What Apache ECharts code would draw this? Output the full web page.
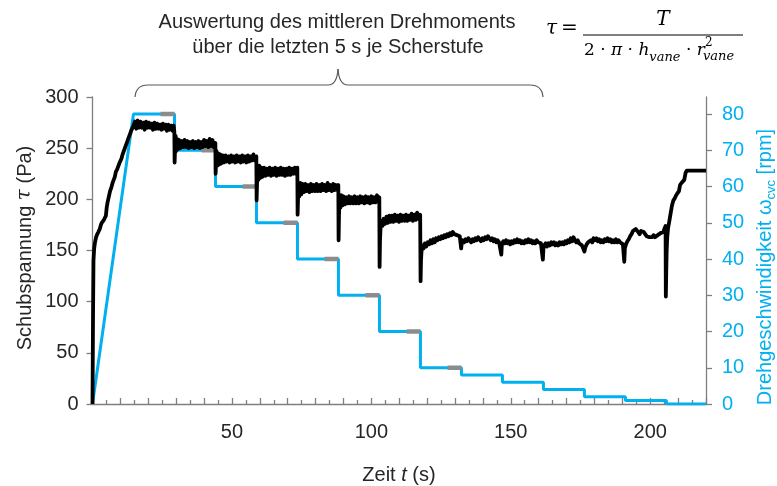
<!DOCTYPE html>
<html><head><meta charset="utf-8">
<script src="https://cdn.jsdelivr.net/npm/echarts@6/dist/echarts.min.js"></script>
<style>html,body{margin:0;padding:0;background:#fff}#c{width:777px;height:486px}</style>
</head><body><div id="c"></div><script>
// ---- data ----
const xLabelValues = [50, 100, 150, 200];
const leftTicks = [0, 50, 100, 150, 200, 250, 300];
const rightTicks = [0, 10, 20, 30, 40, 50, 60, 70, 80];

// speed profile: ramp 0 -> 80 rpm, then steps
const rampEnd = 14.7;
const stepStart = [14.7, 29.4, 44.1, 58.8, 73.5, 88.2, 102.9, 117.6, 132.3, 147.0, 161.7, 176.4, 191.1, 205.8];
const stepRpm   = [80, 70, 60, 50, 40, 30, 20, 10, 8, 6, 4, 2, 1, 0];
const endTime = 220;
const evalWindow = 5;          // last 5 s of each step
const evalStepsCount = 8;      // grey markers on first 8 steps

// shear stress (Pa) vs time (s)
const tauRamp = [[0,0],[0.2,90],[0.35,140],[0.6,152],[0.9,158],[1.3,163],[1.7,166],[2.1,168],[2.6,171],[3.0,175],[3.3,177],[3.7,178],[4.1,180],[4.5,179],[4.8,184],[5.1,192],[5.4,197],[5.8,202],[6.3,208],[6.8,212],[7.2,216],[7.6,219],[8.0,222],[8.4,227],[8.8,229],[9.2,232],[9.6,235],[10.0,236],[10.4,240],[10.8,244],[11.2,247],[11.6,250],[12.0,253],[12.4,256],[12.8,259],[13.2,262],[13.6,265],[14.0,268],[14.4,270],[14.7,272]];
const tau80 = [[15.2,276],[15.7,269],[16.2,277],[16.7,270],[17.2,276],[17.7,270],[18.2,275],[18.7,268],[19.2,276],[19.7,270],[20.2,275],[20.7,270],[21.2,274],[21.7,268],[22.2,275],[22.7,269],[23.2,274],[23.7,269],[24.2,273],[24.7,268],[25.2,274],[25.7,269],[26.2,273],[26.7,267],[27.2,273],[27.7,268],[28.2,272],[28.7,267],[29.1,272],[29.35,266]];
const tau70 = [[29.45,236],[29.6,250],[29.8,262],[30.0,247],[30.3,259],[30.6,249],[31.0,258],[31.5,250],[32.0,257],[32.5,251],[33.0,258],[33.5,251],[34.0,257],[34.5,250],[35.0,256],[35.5,251],[36.0,257],[36.5,250],[37.0,256],[37.5,251],[38.0,257],[38.5,250],[39.0,256],[39.5,251],[40.0,258],[40.5,252],[41.0,257],[41.5,251],[42.0,259],[42.5,252],[43.0,258],[43.5,251],[44.05,255]];
const tau60 = [[44.15,225],[44.3,236],[44.5,247],[44.8,233],[45.1,245],[45.4,234],[45.8,244],[46.2,235],[46.7,243],[47.2,236],[47.7,243],[48.2,237],[48.7,242],[49.2,236],[49.7,243],[50.2,237],[50.7,242],[51.2,236],[51.7,243],[52.2,237],[52.7,242],[53.2,236],[53.7,243],[54.2,237],[54.7,242],[55.2,236],[55.7,243],[56.2,237],[56.7,242],[57.2,238],[57.7,244],[58.2,238],[58.75,242]];
const tau50 = [[58.85,199],[59.0,215],[59.2,231],[59.5,219],[59.8,233],[60.2,221],[60.6,231],[61.0,222],[61.5,231],[62.0,223],[62.5,230],[63.0,224],[63.5,231],[64.0,223],[64.5,230],[65.0,224],[65.5,231],[66.0,223],[66.5,230],[67.0,224],[67.5,231],[68.0,224],[68.5,230],[69.0,223],[69.5,230],[70.0,224],[70.5,231],[71.0,224],[71.5,230],[72.0,225],[72.5,231],[73.0,225],[73.45,231]];
const tau40 = [[73.55,185],[73.7,200],[73.9,215],[74.2,203],[74.5,216],[74.9,205],[75.3,215],[75.8,207],[76.3,215],[76.8,208],[77.3,214],[77.8,207],[78.3,215],[78.8,208],[79.3,214],[79.8,208],[80.3,215],[80.8,208],[81.3,214],[81.8,208],[82.3,215],[82.8,209],[83.3,214],[83.8,208],[84.3,216],[84.8,209],[85.3,214],[85.8,208],[86.3,215],[86.8,209],[87.3,214],[87.8,209],[88.15,214]];
const tau30 = [[88.25,160],[88.4,185],[88.6,201],[88.9,192],[89.2,204],[89.6,194],[90.0,203],[90.5,195],[91.0,202],[91.5,196],[92.0,203],[92.5,196],[93.0,202],[93.5,196],[94.0,203],[94.5,196],[95.0,202],[95.5,196],[96.0,203],[96.5,197],[97.0,202],[97.5,196],[98.0,203],[98.5,197],[99.0,202],[99.5,196],[100.0,203],[100.5,197],[101.0,202],[101.5,197],[102.0,204],[102.5,198],[102.85,202]];
const tau20 = [[102.95,134],[103.1,160],[103.3,172],[103.6,179],[104.0,174],[104.4,181],[104.9,176],[105.4,183],[105.9,177],[106.4,184],[106.9,178],[107.4,184],[107.9,178],[108.4,185],[108.9,179],[109.4,184],[109.9,178],[110.4,185],[110.9,179],[111.4,184],[111.9,179],[112.4,185],[112.9,179],[113.4,184],[113.9,180],[114.4,186],[114.9,179],[115.4,185],[115.9,180],[116.4,187],[116.9,181],[117.5,185]];
const tau10 = [[117.65,120],[117.8,140],[118.0,150],[118.3,155],[118.7,152],[119.2,157],[119.7,154],[120.2,158],[120.7,156],[121.2,160],[121.7,157],[122.2,161],[122.7,158],[123.2,162],[123.7,160],[124.2,163],[124.7,161],[125.2,164],[125.7,162],[126.2,165],[126.7,163],[127.2,166],[127.7,164],[128.2,167],[128.7,165],[129.2,168],[129.7,166],[130.2,167],[130.7,165],[131.2,166],[131.7,164],[132.0,163],[132.2,152]];
const tau8 = [[132.4,157],[132.8,160],[133.3,158],[133.8,161],[134.3,159],[134.8,162],[135.3,160],[135.8,158],[136.3,161],[136.8,159],[137.3,162],[137.8,160],[138.3,163],[138.8,161],[139.3,159],[139.8,162],[140.3,160],[140.8,163],[141.3,161],[141.8,164],[142.3,162],[142.8,160],[143.3,162],[143.8,159],[144.3,161],[144.8,158],[145.3,160],[145.8,158],[146.3,159],[146.6,146],[146.8,156]];
const tau6 = [[147.3,159],[147.8,157],[148.3,160],[148.8,157],[149.3,159],[149.8,156],[150.3,159],[150.8,157],[151.3,160],[151.8,158],[152.3,161],[152.8,158],[153.3,160],[153.8,157],[154.3,159],[154.8,157],[155.3,160],[155.8,158],[156.3,161],[156.8,158],[157.3,160],[157.8,157],[158.3,159],[158.8,157],[159.3,160],[159.8,158],[160.3,159],[160.8,157],[161.2,158],[161.5,141],[161.7,152]];
const tau4 = [[162.0,155],[162.5,157],[163.0,154],[163.5,157],[164.0,155],[164.5,158],[165.0,156],[165.5,158],[166.0,155],[166.5,157],[167.0,155],[167.5,158],[168.0,156],[168.5,158],[169.0,156],[169.5,159],[170.0,157],[170.5,160],[171.0,158],[171.5,162],[172.0,159],[172.5,163],[173.0,160],[173.5,158],[174.0,160],[174.5,157],[175.0,158],[175.5,155],[176.0,156],[176.4,149],[176.7,153]];
const tau2 = [[177.2,156],[177.7,158],[178.2,157],[178.7,160],[179.2,158],[179.7,162],[180.2,160],[180.7,162],[181.2,159],[181.7,161],[182.2,158],[182.7,160],[183.2,158],[183.7,161],[184.2,159],[184.7,162],[185.2,159],[185.7,161],[186.2,158],[186.7,160],[187.2,158],[187.7,161],[188.2,158],[188.7,160],[189.2,158],[189.7,159],[190.2,156],[190.6,155],[190.7,139],[190.9,152]];
const tau1 = [[191.3,156],[191.8,159],[192.3,161],[192.8,164],[193.3,166],[193.8,169],[194.3,168],[194.8,171],[195.2,172],[195.7,168],[196.2,166],[196.7,169],[197.2,170],[197.7,168],[198.2,166],[198.7,164],[199.2,165],[199.7,163],[200.2,164],[200.7,163],[201.2,165],[201.7,163],[202.2,164],[202.7,165],[203.2,166],[203.7,167],[204.2,166],[204.7,168],[205.2,172],[205.5,174],[205.6,105]];
const tau0 = [[205.75,130],[205.9,150],[206.1,163],[206.4,172],[206.8,178],[207.3,186],[207.8,194],[208.3,199],[208.8,201],[209.3,204],[209.8,206],[210.3,208],[210.7,214],[211.2,216],[211.7,217],[212.2,219],[212.7,226],[213.1,228],[213.6,229],[214.1,228],[214.6,229],[215.1,228],[215.6,229],[216.1,228],[216.6,229],[217.1,228],[217.6,229],[218.1,228],[218.6,229],[219.1,228],[219.6,228],[220,228]];

// ---- build series data ----
const stressData = [].concat(tauRamp, tau80, tau70, tau60, tau50, tau40, tau30, tau20, tau10, tau8, tau6, tau4, tau2, tau1, tau0);
const rpmData = [[0, 0], [rampEnd, stepRpm[0]]];
for (let i = 0; i < stepStart.length; i++) {
  const end = i + 1 < stepStart.length ? stepStart[i + 1] : endTime;
  rpmData.push([stepStart[i], stepRpm[i]]);
  rpmData.push([end, stepRpm[i]]);
}
const greySeries = [];
for (let i = 0; i < evalStepsCount; i++) {
  const end = stepStart[i + 1];
  greySeries.push({
    type: 'line', yAxisIndex: 1, showSymbol: false, silent: true, z: 3,
    data: [[end - evalWindow, stepRpm[i]], [end, stepRpm[i]]],
    lineStyle: { color: '#8c8c8c', width: 4.5, cap: 'butt' }
  });
}

const AX = '#7f7f7f';
const FONT = 'Liberation Sans, Arial, sans-serif';
const MATH = 'DejaVu Serif, serif';
const BLUE = '#00B0F0';
const BRACE = { stroke: '#595959', lineWidth: 1.2, fill: null };

const chart = echarts.init(document.getElementById('c'), null, { renderer: 'canvas' });
chart.setOption({
  animation: false,
  backgroundColor: '#fff',
  grid: { left: 92.5, right: 71, top: 97, bottom: 82, containLabel: false },
  xAxis: {
    type: 'value', min: 0, max: endTime, interval: 10,
    axisLine: { show: true, onZero: false, lineStyle: { color: AX, width: 1.3 } },
    axisTick: { show: true, inside: true, length: 6, lineStyle: { color: AX, width: 1.3 } },
    minorTick: { show: true, splitNumber: 2, length: 4, lineStyle: { color: AX, width: 1.3 } },
    axisLabel: { fontSize: 20, color: '#262626', fontFamily: FONT, margin: 18,
      formatter: v => xLabelValues.includes(v) ? String(v) : '' },
    splitLine: { show: false }, minorSplitLine: { show: false }
  },
  yAxis: [{
    type: 'value', min: 0, max: 300, interval: 50, position: 'left',
    axisLine: { show: true, lineStyle: { color: AX, width: 1.3 } },
    axisTick: { show: true, length: 6, lineStyle: { color: AX, width: 1.3 } },
    axisLabel: { fontSize: 20, color: '#262626', fontFamily: FONT, margin: 14 },
    splitLine: { show: false }
  }, {
    type: 'value', min: 0, max: 84.7, interval: 10, position: 'right',
    axisLine: { show: true, lineStyle: { color: AX, width: 1.3 } },
    axisTick: { show: true, length: 6, lineStyle: { color: AX, width: 1.3 }, customValues: rightTicks },
    axisLabel: { fontSize: 20, color: BLUE, fontFamily: FONT, margin: 16, customValues: rightTicks },
    splitLine: { show: false }
  }],
  series: [{
    type: 'line', yAxisIndex: 1, data: rpmData, showSymbol: false, silent: true, z: 2,
    lineStyle: { color: BLUE, width: 3 }
  }].concat(greySeries, [{
    type: 'line', yAxisIndex: 0, data: stressData, showSymbol: false, silent: true, z: 4,
    lineStyle: { color: '#000', width: 3.8, join: 'round' }
  }]),
  graphic: [
    { type: 'text', x: 337, y: 22, style: { text: 'Auswertung des mittleren Drehmoments', fontSize: 20, fontFamily: FONT, fill: '#262626', align: 'center', verticalAlign: 'middle', textAlign: 'center', textVerticalAlign: 'middle' } },
    { type: 'text', x: 338, y: 47, style: { text: 'über die letzten 5 s je Scherstufe', fontSize: 20, fontFamily: FONT, fill: '#262626', align: 'center', verticalAlign: 'middle', textAlign: 'center', textVerticalAlign: 'middle' } },
    // curly brace
    { type: 'bezierCurve', shape: { x1: 135, y1: 97, cpx1: 136, cpy1: 85, x2: 148, y2: 85 }, style: BRACE },
    { type: 'line', shape: { x1: 148, y1: 85, x2: 328, y2: 85 }, style: BRACE },
    { type: 'bezierCurve', shape: { x1: 328, y1: 85, cpx1: 337, cpy1: 85, x2: 338, y2: 69 }, style: BRACE },
    { type: 'bezierCurve', shape: { x1: 338, y1: 69, cpx1: 339, cpy1: 85, x2: 348, y2: 85 }, style: BRACE },
    { type: 'line', shape: { x1: 348, y1: 85, x2: 530, y2: 85 }, style: BRACE },
    { type: 'bezierCurve', shape: { x1: 530, y1: 85, cpx1: 542, cpy1: 85, x2: 543, y2: 97 }, style: BRACE },
    // formula
    { type: 'text', x: 546, y: 29, style: { text: 'τ', fontSize: 20, fontFamily: MATH, fontStyle: 'italic', fill: '#000', align: 'left', verticalAlign: 'middle', textAlign: 'left', textVerticalAlign: 'middle' } },
    { type: 'text', x: 561, y: 29, style: { text: '=', fontSize: 20, fontFamily: MATH, fill: '#000', align: 'left', verticalAlign: 'middle', textAlign: 'left', textVerticalAlign: 'middle' } },
    { type: 'line', shape: { x1: 583, y1: 35, x2: 743, y2: 35 }, style: { stroke: '#000', lineWidth: 1.2 } },
    { type: 'text', x: 663, y: 20, style: { text: 'T', fontSize: 20, fontFamily: MATH, fontStyle: 'italic', fill: '#000', align: 'center', verticalAlign: 'middle', textAlign: 'center', textVerticalAlign: 'middle' } },
    { type: 'text', x: 584, y: 51, style: {
        text: '{n|2 · }{i|π}{n| · }{i|h}{s|vane}{n| · }{i|r}',
        align: 'left', verticalAlign: 'middle', textAlign: 'left', textVerticalAlign: 'middle',
        rich: {
          n: { fontSize: 17, fontFamily: MATH, fill: '#000', lineHeight: 26 },
          i: { fontSize: 17, fontFamily: MATH, fontStyle: 'italic', fill: '#000', lineHeight: 26 },
          s: { fontSize: 13, fontFamily: MATH, fontStyle: 'italic', fill: '#000', lineHeight: 13, verticalAlign: 'bottom' }
        } } },
    { type: 'text', x: 705, y: 43, style: { text: '2', fontSize: 12, fontFamily: MATH, fill: '#000', align: 'left', verticalAlign: 'middle', textAlign: 'left', textVerticalAlign: 'middle' } },
    { type: 'text', x: 703, y: 57, style: { text: 'vane', fontSize: 13, fontFamily: MATH, fontStyle: 'italic', fill: '#000', align: 'left', verticalAlign: 'middle', textAlign: 'left', textVerticalAlign: 'middle' } },
    // axis names
    { type: 'text', x: 25, y: 248, rotation: Math.PI / 2, style: {
        text: '{a|Schubspannung }{i|τ}{a| (Pa)}', align: 'center', verticalAlign: 'middle', textAlign: 'center', textVerticalAlign: 'middle',
        rich: { a: { fontSize: 20, fontFamily: FONT, fill: '#262626' }, i: { fontSize: 20, fontFamily: MATH, fontStyle: 'italic', fill: '#262626' } } } },
    { type: 'text', x: 399, y: 475, style: {
        text: '{a|Zeit }{i|t}{a| (s)}', align: 'center', verticalAlign: 'middle', textAlign: 'center', textVerticalAlign: 'middle',
        rich: { a: { fontSize: 20, fontFamily: FONT, fill: '#262626' }, i: { fontSize: 20, fontFamily: FONT, fontStyle: 'italic', fill: '#262626' } } } },
    { type: 'text', x: 765, y: 267, rotation: Math.PI / 2, style: {
        text: '{a|Drehgeschwindigkeit ω}{s|cvc}{a| [rpm]}', align: 'center', verticalAlign: 'middle', textAlign: 'center', textVerticalAlign: 'middle',
        rich: { a: { fontSize: 20, fontFamily: FONT, fill: BLUE, lineHeight: 26 }, s: { fontSize: 13, fontFamily: FONT, fill: BLUE, lineHeight: 14, verticalAlign: 'bottom' } } } }
  ]
});
</script></body></html>
